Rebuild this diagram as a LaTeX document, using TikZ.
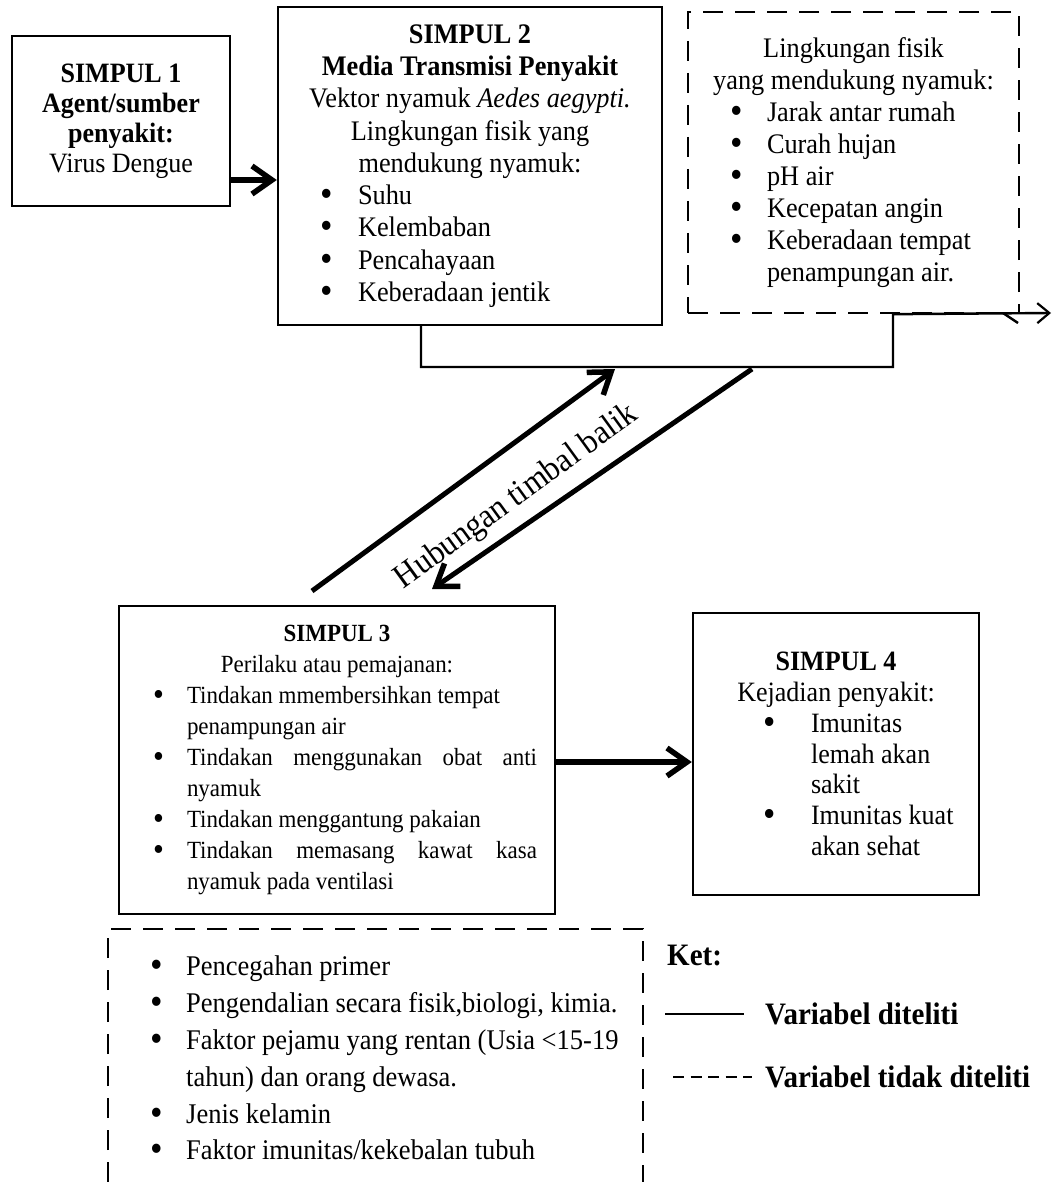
\documentclass[tikz,border=0pt]{standalone}
\usepackage{fontspec}
\usepackage{graphicx}
\setmainfont{Liberation Serif}[FakeStretch=0.93]
\usetikzlibrary{arrows.meta}
\newcommand\titik{\raisebox{-0.07em}{\scalebox{1.35}{\textbullet}}}
\newcommand\butir[1]{\makebox[\bulW][l]{\hspace*{\bulO}\makebox[\bulG][l]{\titik}#1}}
\newcommand\lanjut[1]{\makebox[\bulW][l]{\hspace*{\bulO}\hspace*{\bulG}#1}}

\begin{document}
\begin{tikzpicture}[x=1pt,y=-1pt,
  simpul/.style={draw, line width=2.4pt, inner sep=0pt, align=center},
  putus/.style={line width=2.4pt, dash pattern=on 20pt off 12pt},
  garis/.style={line width=2.4pt},
  bul/.style n args={3}{execute at begin node={\def\bulW{#1}\def\bulO{#2}\def\bulG{#3}}},
  panah/.style={line width=5.5pt, -{Straight Barb[length=20pt,width=28pt,line width=5.5pt]}},
  ukuran/.style 2 args={font=\fontsize{#1}{#2}\selectfont}]

\useasboundingbox (0,0) rectangle (1051,1182);

% simpul 1
\node[simpul, ukuran={28}{30}, minimum width=218pt, minimum height=170pt] (s1) at (121,121)
  {\textbf{SIMPUL 1}\\\textbf{Agent/sumber}\\\textbf{penyakit:}\\Virus Dengue};

% simpul 2
\node[simpul, ukuran={28.3}{32.3}, bul={300pt}{0pt}{38pt}, minimum width=384pt, minimum height=318pt] (s2) at (470,166)
  {\textbf{SIMPUL 2}\\\textbf{Media Transmisi Penyakit}\\Vektor nyamuk \textit{Aedes aegypti.}\\
   Lingkungan fisik yang\\mendukung nyamuk:\\
   \butir{Suhu}\\\butir{Kelembaban}\\\butir{Pencahayaan}\\\butir{Keberadaan jentik}};

% lingkungan fisik (tidak diteliti)
\node[simpul, putus, ukuran={28.3}{32}, bul={247pt}{0pt}{37pt}, minimum width=331pt, minimum height=301pt] (lf) at (853.5,162.5)
  {Lingkungan fisik\\yang mendukung nyamuk:\\
   \butir{Jarak antar rumah}\\\butir{Curah hujan}\\\butir{pH air}\\\butir{Kecepatan angin}\\
   \butir{Keberadaan tempat}\\\lanjut{penampungan air.}};

% simpul 3
\node[simpul, ukuran={24.7}{31}, bul={400pt}{16pt}{34pt}, minimum width=436pt, minimum height=308pt] (s3) at (337,760)
  {\textbf{SIMPUL 3}\\Perilaku atau pemajanan:\\
   \butir{Tindakan mmembersihkan tempat}\\\lanjut{penampungan air}\\
   \butir{\makebox[350pt][s]{Tindakan menggunakan obat anti}}\\\lanjut{nyamuk}\\
   \butir{Tindakan menggantung pakaian}\\
   \butir{\makebox[350pt][s]{Tindakan memasang kawat kasa}}\\\lanjut{nyamuk pada ventilasi}};

% simpul 4
\node[simpul, ukuran={28}{30.8}, bul={146pt}{0pt}{48pt}, minimum width=286pt, minimum height=282pt] (s4) at (836,754)
  {\textbf{SIMPUL 4}\\Kejadian penyakit:\\
   \butir{Imunitas}\\\lanjut{lemah akan}\\\lanjut{sakit}\\\butir{Imunitas kuat}\\\lanjut{akan sehat}};

% faktor lain (tidak diteliti)
\coordinate (b1) at (108,1182);
\coordinate (b2) at (108,929);
\coordinate (b3) at (643,929);
\coordinate (b4) at (643,1182);
\draw[putus] (b1) -- (b2) -- (b3) -- (b4);
\node[ukuran={28.5}{36.8}, bul={450pt}{0pt}{36pt}, align=left, inner sep=0pt, anchor=west] (fl) at (150,1059)
  {\butir{Pencegahan primer}\\\butir{Pengendalian secara fisik,biologi, kimia.}\\
   \butir{Faktor pejamu yang rentan (Usia <15-19}\\\lanjut{tahun) dan orang dewasa.}\\
   \butir{Jenis kelamin}\\\butir{Faktor imunitas/kekebalan tubuh}};

% panah antar simpul
\coordinate (a12) at ([yshift=-59pt]s1.east);
\draw[panah] (a12) -- (a12 -| s2.west);
\coordinate (a34) at ([yshift=-2pt]s3.east);
\draw[panah] (a34) -- (a34 -| s4.west);

% kurung bawah simpul 2
\coordinate (k1) at ([xshift=-49pt]s2.south);
\coordinate (k2) at (421,367);
\coordinate (k3) at (893,367);
\coordinate (k4) at (k3 |- lf.south);
\coordinate (k5) at (1051,313);
\draw[garis, -{Straight Barb[length=12pt,width=20pt,line width=2.2pt]}] (k1) -- (k2) -- (k3) -- (k4) -- (k5);
\draw[garis] (1003,313) -- (1018,323);

% hubungan timbal balik
\coordinate (h1) at (312,591);
\coordinate (h2) at (615,369);
\coordinate (h3) at (752,369);
\coordinate (h4) at (432,589);
\draw[panah, line width=5pt] (h1) -- (h2);
\draw[panah, line width=5pt] (h3) -- (h4);
\node[ukuran={34}{40}, rotate=36, inner sep=0pt] (hub) at (517,497) {Hubungan timbal balik};

% keterangan
\node[ukuran={31.2}{34}, anchor=west, inner sep=0pt] (ket) at (667,955) {\textbf{Ket:}};
\coordinate (g1) at (665,1014);
\coordinate (g2) at (744,1014);
\draw[garis] (g1) -- (g2);
\node[ukuran={31.2}{34}, anchor=west, inner sep=0pt] (vd) at (765,1014) {\textbf{Variabel diteliti}};
\coordinate (g3) at (673,1077);
\coordinate (g4) at (752,1077);
\draw[garis, dash pattern=on 11pt off 6.5pt] (g3) -- (g4);
\node[ukuran={31.2}{34}, anchor=west, inner sep=0pt] (vtd) at (765,1077) {\textbf{Variabel tidak diteliti}};

\end{tikzpicture}
\end{document}
